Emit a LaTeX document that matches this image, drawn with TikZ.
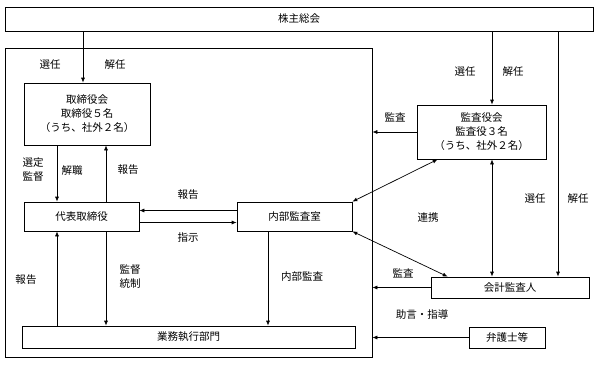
\documentclass[tikz,border=0pt]{standalone}
\usepackage{fontspec}
\setmainfont{Noto Sans CJK JP}
\usetikzlibrary{arrows.meta, positioning}

\begin{document}
\begin{tikzpicture}[
    x=1pt, y=-1pt,
    every node/.style={font=\fontsize{10.5}{14}\selectfont, align=center},
    box/.style={draw, line width=0.7pt, inner sep=0pt},
    arr/.style={-{Latex[length=5pt,width=4pt]}, line width=0.7pt},
    darr/.style={{Latex[length=5pt,width=4pt]}-{Latex[length=5pt,width=4pt]}, line width=0.7pt},
    lbl/.style={inner sep=1pt}
]
    \useasboundingbox (0,0) rectangle (599,364);

    % boxes
    \node[box, minimum width=588, minimum height=24] (sh) at (299,19) {株主総会};
    \node[box, minimum width=367, minimum height=309] (co) at (188.5,202.5) {};
    \node[box, minimum width=126, minimum height=62] (bd) at (87,114) {取締役会\\取締役５名\\（うち、社外２名）};
    \node[box, minimum width=115, minimum height=29] (rep) at (81.5,216.5) {代表取締役};
    \node[box, minimum width=115, minimum height=29] (ia) at (294.5,216.5) {内部監査室};
    \node[box, minimum width=333, minimum height=22] (ops) at (188.5,337) {業務執行部門};
    \node[box, minimum width=129, minimum height=54] (ka) at (481.5,132) {監査役会\\監査役３名\\（うち、社外２名）};
    \node[box, minimum width=158, minimum height=21] (ac) at (510,287.5) {会計監査人};
    \node[box, minimum width=76, minimum height=21] (law) at (507,337.5) {弁護士等};

    % line positions
    \coordinate (xbd) at (83,0);
    \coordinate (xl) at (57,0);
    \coordinate (xr) at (106,0);
    \coordinate (xia) at (268,0);
    \coordinate (xka) at (492,0);
    \coordinate (xac) at (558,0);

    % connectors
    \draw[arr] (sh.south -| xbd) -- (bd.north -| xbd);
    \draw[arr] (bd.south -| xl) -- (rep.north -| xl);
    \draw[arr] (rep.north -| xr) -- (bd.south -| xr);
    \draw[arr] (ops.north -| xl) -- (rep.south -| xl);
    \draw[arr] (rep.south -| xr) -- (ops.north -| xr);
    \draw[arr] ([yshift=6pt]ia.west) -- ([yshift=6pt]rep.east);
    \draw[arr] ([yshift=-6pt]rep.east) -- ([yshift=-6pt]ia.west);
    \draw[arr] (ia.south -| xia) -- (ops.north -| xia);
    \draw[arr] (sh.south -| xka) -- (ka.north -| xka);
    \draw[arr] (ka.west) -- (ka.west -| co.east);
    \draw[darr] ([xshift=21pt]ka.south west) -- (ia.north east);
    \draw[darr] (ia.south east) -- ([xshift=17pt]ac.north west);
    \draw[darr] (ka.south -| xka) -- (ac.north -| xka);
    \draw[arr] (sh.south -| xac) -- (ac.north -| xac);
    \draw[arr] (ac.west) -- (ac.west -| co.east);
    \draw[arr] (law.west) -- (law.west -| co.east);

    % labels
    \node[lbl] (l1) at (50,65) {選任};
    \node[lbl] (l2) at (115,65) {解任};
    \node[lbl] (l3) at (33,170) {選定\\監督};
    \node[lbl] (l4) at (72,171) {解職};
    \node[lbl] (l5) at (128,170) {報告};
    \node[lbl] (l6) at (188,195) {報告};
    \node[lbl] (l7) at (188,238) {指示};
    \node[lbl] (l8) at (26,280) {報告};
    \node[lbl] (l9) at (130,277) {監督\\統制};
    \node[lbl] (l10) at (302,277) {内部監査};
    \node[lbl] (l11) at (465,72) {選任};
    \node[lbl] (l12) at (513,72) {解任};
    \node[lbl] (l13) at (395,117) {監査};
    \node[lbl] (l14) at (428,218) {連携};
    \node[lbl] (l15) at (535,199) {選任};
    \node[lbl] (l16) at (578,199) {解任};
    \node[lbl] (l17) at (403,273) {監査};
    \node[lbl] (l18) at (422,315) {助言・指導};
\end{tikzpicture}
\end{document}
